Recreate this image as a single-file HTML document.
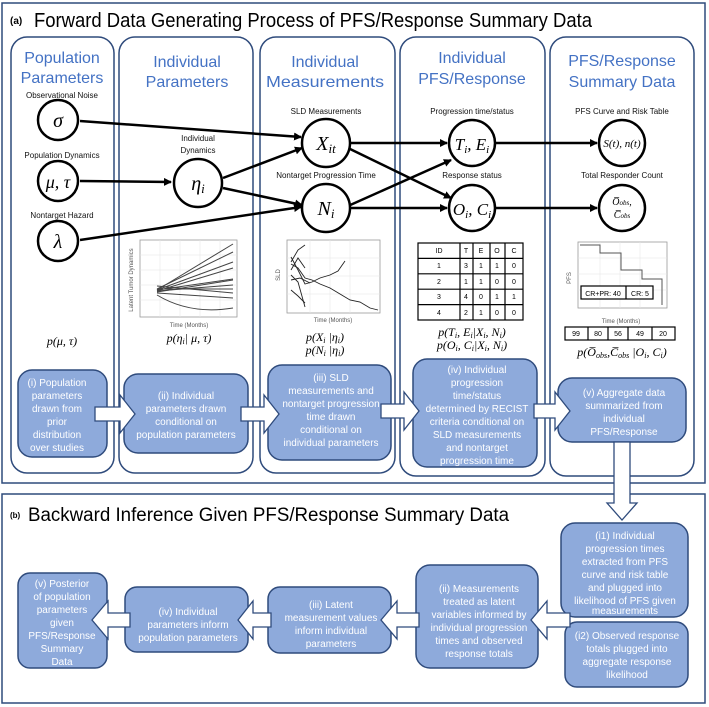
<!DOCTYPE html>
<html><head><meta charset="utf-8"><style>
html,body{margin:0;padding:0;background:#fff;}
svg{display:block;font-family:"Liberation Sans",sans-serif;}
.t{fill:#4472c4;font-size:16px;text-anchor:middle;}
.l{font-size:8px;text-anchor:middle;fill:#111;}
.m{font-family:"Liberation Serif",serif;font-style:italic;text-anchor:middle;fill:#000;}
.bx{fill:#8eaadb;stroke:#2f4b7c;stroke-width:1.5;}
.bt{fill:#fff;font-size:10px;text-anchor:middle;}
.ar{fill:#fff;stroke:#2f4b7c;stroke-width:1.3;}
.col{fill:none;stroke:#2f4b7c;stroke-width:1.5;}
.c{fill:#fff;stroke:#000;stroke-width:2.5;}
.e{stroke:#000;stroke-width:2.5;fill:none;marker-end:url(#h);}
.g{stroke:#e6e6e6;stroke-width:0.6;}
.pl{stroke:#444;stroke-width:1;fill:none;}
.tx{font-size:6px;fill:#555;text-anchor:middle;}
.tb{font-size:7px;text-anchor:middle;fill:#000;}
</style></head><body>
<svg width="709" height="707" viewBox="0 0 709 707">
<defs><marker id="h" markerWidth="8" markerHeight="8" refX="7" refY="4" orient="auto" markerUnits="userSpaceOnUse"><path d="M0,0 L8,4 L0,8 Z" fill="#000"/></marker></defs>
<rect x="2" y="3" width="703" height="480" fill="none" stroke="#2f4b7c" stroke-width="1.5"/>
<text x="10" y="24" font-size="10" font-weight="bold">(a)</text>
<text x="34" y="27" font-size="20" textLength="558" lengthAdjust="spacingAndGlyphs">Forward Data Generating Process of PFS/Response Summary Data</text>
<rect class="col" x="11" y="37" width="103" height="436" rx="16"/>
<rect class="col" x="119" y="37" width="134" height="436" rx="16"/>
<rect class="col" x="260" y="37" width="135" height="436" rx="16"/>
<rect class="col" x="400" y="37" width="145" height="439" rx="16"/>
<rect class="col" x="550" y="37" width="144" height="439" rx="16"/>
<text class="t" x="62" y="63">Population</text><text class="t" x="62" y="83">Parameters</text>
<text class="t" x="187" y="67">Individual</text><text class="t" x="187" y="87">Parameters</text>
<text class="t" x="325" y="67">Individual</text><text class="t" x="325" y="87" textLength="118" lengthAdjust="spacingAndGlyphs">Measurements</text>
<text class="t" x="472" y="63">Individual</text><text class="t" x="472" y="84">PFS/Response</text>
<text class="t" x="622" y="66">PFS/Response</text><text class="t" x="622" y="87">Summary Data</text>
<text class="l" x="62" y="98">Observational Noise</text>
<text class="l" x="62" y="158">Population Dynamics</text>
<text class="l" x="62" y="218">Nontarget Hazard</text>
<text class="l" x="198" y="141">Individual</text><text class="l" x="198" y="153">Dynamics</text>
<text class="l" x="326" y="114">SLD Measurements</text>
<text class="l" x="326" y="178">Nontarget Progression Time</text>
<text class="l" x="472" y="114">Progression time/status</text>
<text class="l" x="472" y="178">Response status</text>
<text class="l" x="622" y="114">PFS Curve and Risk Table</text>
<text class="l" x="622" y="178">Total Responder Count</text>
<line class="e" x1="80" y1="121" x2="301" y2="137"/>
<line class="e" x1="80" y1="181" x2="171" y2="182"/>
<line class="e" x1="80" y1="240" x2="301" y2="207"/>
<line class="e" x1="223" y1="178" x2="302" y2="148"/>
<line class="e" x1="223" y1="188" x2="302" y2="205"/>
<line class="e" x1="350" y1="143" x2="447" y2="143"/>
<line class="e" x1="348" y1="148" x2="451" y2="198"/>
<line class="e" x1="348" y1="206" x2="451" y2="160"/>
<line class="e" x1="350" y1="208" x2="447" y2="208"/>
<line class="e" x1="496" y1="143" x2="597" y2="143"/>
<line class="e" x1="496" y1="208" x2="597" y2="208"/>
<circle class="c" cx="58" cy="120" r="20"/><text class="m" x="58" y="127" font-size="20">σ</text>
<circle class="c" cx="58" cy="181" r="20"/><text class="m" x="58" y="188" font-size="18">μ, τ</text>
<circle class="c" cx="58" cy="241" r="20"/><text class="m" x="58" y="248" font-size="20">λ</text>
<circle class="c" cx="198" cy="183" r="24"/><text class="m" x="198" y="190" font-size="20">η<tspan font-size="13" dy="3">i</tspan></text>
<circle class="c" cx="326" cy="143" r="24"/><text class="m" x="326" y="150" font-size="20">X<tspan font-size="13" dy="3">it</tspan></text>
<circle class="c" cx="326" cy="208" r="24"/><text class="m" x="326" y="215" font-size="20">N<tspan font-size="13" dy="3">i</tspan></text>
<circle class="c" cx="472" cy="143" r="23"/><text class="m" x="472" y="150" font-size="17">T<tspan font-size="11" dy="3">i</tspan><tspan dy="-3">, E</tspan><tspan font-size="11" dy="3">i</tspan></text>
<circle class="c" cx="472" cy="208" r="23"/><text class="m" x="472" y="215" font-size="17">O<tspan font-size="11" dy="3">i</tspan><tspan dy="-3">, C</tspan><tspan font-size="11" dy="3">i</tspan></text>
<circle class="c" cx="622" cy="143" r="23"/><text class="m" x="622" y="147" font-size="11">S(t), n(t)</text>
<circle class="c" cx="622" cy="208" r="23"/><text class="m" x="622" y="205" font-size="10">O̅<tspan font-size="7">obs</tspan>,</text><text class="m" x="622" y="218" font-size="10">C̅<tspan font-size="7">obs</tspan></text>
<!-- plot 2 -->
<rect x="140" y="240" width="97" height="77" fill="#fff" stroke="#999" stroke-width="0.8"/>
<g class="g"><line x1="140" y1="255" x2="237" y2="255"/><line x1="140" y1="270" x2="237" y2="270"/><line x1="140" y1="285" x2="237" y2="285"/><line x1="140" y1="300" x2="237" y2="300"/><line x1="160" y1="240" x2="160" y2="317"/><line x1="180" y1="240" x2="180" y2="317"/><line x1="200" y1="240" x2="200" y2="317"/><line x1="220" y1="240" x2="220" y2="317"/></g>
<g class="pl"><path d="M157,290 L233,244"/><path d="M157,289 L233,252"/><path d="M157,290 L233,262"/><path d="M157,291 L233,268"/><path d="M157,290 L233,279"/><path d="M157,292 L233,280"/><path d="M157,291 L233,285"/><path d="M157,289 L233,289"/><path d="M157,293 L233,298"/><path d="M157,286 L233,293"/><path d="M157,295 Q190,315 233,308"/></g>
<text class="tx" x="189" y="327">Time (Months)</text>
<text class="tx" x="133" y="280" transform="rotate(-90 133 280)">Latent Tumor Dynamics</text>
<!-- plot 3 -->
<rect x="287" y="240" width="93" height="73" fill="#fff" stroke="#999" stroke-width="0.8"/>
<g class="g"><line x1="287" y1="258" x2="380" y2="258"/><line x1="287" y1="276" x2="380" y2="276"/><line x1="287" y1="294" x2="380" y2="294"/><line x1="310" y1="240" x2="310" y2="313"/><line x1="330" y1="240" x2="330" y2="313"/><line x1="350" y1="240" x2="350" y2="313"/></g>
<g stroke="#222" stroke-width="0.9" fill="none"><path d="M291,257 L298,270 L305,284 L312,282 L320,278 L330,275 L338,271 L345,261"/><path d="M291,264 L298,268 L305,278 L312,280 L320,284 L330,288 L340,294 L350,300 L360,302 L370,308 L378,310"/><path d="M291,290 L298,296 L305,303"/><path d="M291,275 L298,282 L305,307"/><path d="M291,262 L298,250 L305,245"/><path d="M291,270 L298,258 L305,268"/><path d="M291,280 L300,278 L310,283"/></g>
<text class="tx" x="333" y="322">Time (Months)</text>
<text class="tx" x="280" y="275" transform="rotate(-90 280 275)">SLD</text>
<!-- table -->
<g stroke="#000" stroke-width="1.2" fill="none"><rect x="418" y="243" width="105" height="77"/><line x1="418" y1="258.4" x2="523" y2="258.4"/><line x1="418" y1="273.8" x2="523" y2="273.8"/><line x1="418" y1="289.2" x2="523" y2="289.2"/><line x1="418" y1="304.6" x2="523" y2="304.6"/><line x1="460" y1="243" x2="460" y2="320"/><line x1="473" y1="243" x2="473" y2="320"/><line x1="490" y1="243" x2="490" y2="320"/><line x1="505" y1="243" x2="505" y2="320"/></g>
<g class="tb"><text x="439" y="253">ID</text><text x="466" y="253">T</text><text x="481" y="253">E</text><text x="497" y="253">O</text><text x="514" y="253">C</text>
<text x="439" y="268">1</text><text x="466" y="268">3</text><text x="481" y="268">1</text><text x="497" y="268">1</text><text x="514" y="268">0</text>
<text x="439" y="284">2</text><text x="466" y="284">1</text><text x="481" y="284">1</text><text x="497" y="284">0</text><text x="514" y="284">0</text>
<text x="439" y="299">3</text><text x="466" y="299">4</text><text x="481" y="299">0</text><text x="497" y="299">1</text><text x="514" y="299">1</text>
<text x="439" y="315">4</text><text x="466" y="315">2</text><text x="481" y="315">1</text><text x="497" y="315">0</text><text x="514" y="315">0</text></g>
<!-- pfs plot -->
<rect x="578" y="242" width="89" height="66" fill="#fff" stroke="#999" stroke-width="0.8"/>
<g class="g"><line x1="578" y1="258" x2="667" y2="258"/><line x1="578" y1="274" x2="667" y2="274"/><line x1="578" y1="290" x2="667" y2="290"/><line x1="600" y1="242" x2="600" y2="308"/><line x1="620" y1="242" x2="620" y2="308"/><line x1="640" y1="242" x2="640" y2="308"/></g>
<path d="M580,245 L600,245 L600,253 L621,253 L621,270 L642,270 L642,279 L662,279 L662,305" stroke="#555" stroke-width="1" fill="none"/>
<rect x="581" y="286" width="72" height="13" fill="#fff" stroke="#000" stroke-width="1.2"/><line x1="626" y1="286" x2="626" y2="299" stroke="#000" stroke-width="1.2"/>
<text class="tb" x="603" y="296">CR+PR: 40</text><text class="tb" x="640" y="296">CR: 5</text>
<text class="tx" x="571" y="278" transform="rotate(-90 571 278)">PFS</text>
<text class="tx" x="621" y="323" font-size="7">Time (Months)</text>
<g stroke="#000" stroke-width="1.2" fill="none"><rect x="565" y="327" width="110" height="13"/><line x1="588" y1="327" x2="588" y2="340"/><line x1="608" y1="327" x2="608" y2="340"/><line x1="628" y1="327" x2="628" y2="340"/><line x1="652" y1="327" x2="652" y2="340"/></g>
<g class="tb" font-size="6"><text x="576" y="336">99</text><text x="598" y="336">80</text><text x="618" y="336">56</text><text x="640" y="336">49</text><text x="663" y="336">20</text></g>
<!-- formulas -->
<text class="m" x="62" y="345" font-size="12">p(μ, τ)</text>
<text class="m" x="189" y="342" font-size="12">p(η<tspan font-size="8" dy="2">i</tspan><tspan dy="-2">| μ, τ)</tspan></text>
<text class="m" x="325" y="341" font-size="12">p(X<tspan font-size="8" dy="2">i</tspan><tspan dy="-2"> |η</tspan><tspan font-size="8" dy="2">i</tspan><tspan dy="-2">)</tspan></text>
<text class="m" x="325" y="354" font-size="12">p(N<tspan font-size="8" dy="2">i</tspan><tspan dy="-2"> |η</tspan><tspan font-size="8" dy="2">i</tspan><tspan dy="-2">)</tspan></text>
<text class="m" x="472" y="336" font-size="12">p(T<tspan font-size="8" dy="2">i</tspan><tspan dy="-2">, E</tspan><tspan font-size="8" dy="2">i</tspan><tspan dy="-2">|X</tspan><tspan font-size="8" dy="2">i</tspan><tspan dy="-2">, N</tspan><tspan font-size="8" dy="2">i</tspan><tspan dy="-2">)</tspan></text>
<text class="m" x="472" y="349" font-size="12">p(O<tspan font-size="8" dy="2">i</tspan><tspan dy="-2">, C</tspan><tspan font-size="8" dy="2">i</tspan><tspan dy="-2">|X</tspan><tspan font-size="8" dy="2">i</tspan><tspan dy="-2">, N</tspan><tspan font-size="8" dy="2">i</tspan><tspan dy="-2">)</tspan></text>
<text class="m" x="622" y="356" font-size="12">p(O̅<tspan font-size="8" dy="2">obs</tspan><tspan dy="-2">,C̅</tspan><tspan font-size="8" dy="2">obs</tspan><tspan dy="-2"> |O</tspan><tspan font-size="8" dy="2">i</tspan><tspan dy="-2">, C</tspan><tspan font-size="8" dy="2">i</tspan><tspan dy="-2">)</tspan></text>
<!-- forward boxes -->
<rect class="bx" x="18" y="370" width="89" height="87" rx="14"/>
<rect class="bx" x="124" y="374" width="124" height="79" rx="14"/>
<rect class="bx" x="268" y="365" width="123" height="95" rx="14"/>
<rect class="bx" x="413" y="359" width="124" height="108" rx="14"/>
<rect class="bx" x="558" y="378" width="128" height="64" rx="14"/>
<path class="ar" d="M95,407 L120,407 L120,395 L135,414 L120,433 L120,421 L95,421 Z"/>
<path class="ar" d="M241,407 L264,407 L264,395 L279,414 L264,433 L264,421 L241,421 Z"/>
<path class="ar" d="M381,404 L404,404 L404,392 L419,411 L404,430 L404,418 L381,418 Z"/>
<path class="ar" d="M534,404 L555,404 L555,392 L570,411 L555,430 L555,418 L534,418 Z"/>
<g class="bt">
<text x="57" y="386">(i) Population</text><text x="57" y="399">parameters</text><text x="57" y="412">drawn from</text><text x="57" y="425">prior</text><text x="57" y="438">distribution</text><text x="57" y="451">over studies</text>
<text x="186" y="399">(ii) Individual</text><text x="186" y="412">parameters drawn</text><text x="186" y="425">conditional on</text><text x="186" y="438">population parameters</text>
<text x="331" y="381">(iii) SLD</text><text x="331" y="394">measurements and</text><text x="331" y="407">nontarget progression</text><text x="331" y="420">time drawn</text><text x="331" y="433">conditional on</text><text x="331" y="446">individual parameters</text>
<text x="477" y="373">(iv) Individual</text><text x="477" y="386">progression</text><text x="477" y="399">time/status</text><text x="477" y="412">determined by RECIST</text><text x="477" y="425">criteria conditional on</text><text x="477" y="438">SLD measurements</text><text x="477" y="451">and nontarget</text><text x="477" y="464">progression time</text>
<text x="624" y="396">(v) Aggregate data</text><text x="624" y="409">summarized from</text><text x="624" y="422">individual</text><text x="624" y="435">PFS/Response</text>
</g>
<!-- part b -->
<rect x="2" y="494" width="703" height="209" fill="none" stroke="#2f4b7c" stroke-width="1.5"/>
<text x="10" y="518" font-size="8" font-weight="bold">(b)</text>
<text x="28" y="521" font-size="19" textLength="481" lengthAdjust="spacingAndGlyphs">Backward Inference Given PFS/Response Summary Data</text>
<path class="ar" d="M614,442 L630,442 L630,503 L637,503 L622,520 L607,503 L614,503 Z"/>
<rect class="bx" x="561" y="523" width="127" height="94" rx="14"/>
<rect class="bx" x="565" y="622" width="123" height="65" rx="12"/>
<rect class="bx" x="416" y="565" width="122" height="103" rx="14"/>
<rect class="bx" x="268" y="587" width="123" height="66" rx="12"/>
<rect class="bx" x="125" y="587" width="123" height="65" rx="12"/>
<rect class="bx" x="18" y="573" width="89" height="95" rx="12"/>
<path class="ar" d="M570,613 L547,613 L547,601 L531,620 L547,639 L547,627 L570,627 Z"/>
<path class="ar" d="M419,613 L397,613 L397,601 L381,620 L397,639 L397,627 L419,627 Z"/>
<path class="ar" d="M271,613 L253,613 L253,601 L238,620 L253,639 L253,627 L271,627 Z"/>
<path class="ar" d="M130,613 L108,613 L108,601 L92,620 L108,639 L108,627 L130,627 Z"/>
<g class="bt" font-size="9.5">
<text x="625" y="539">(i1) Individual</text><text x="625" y="552">progression times</text><text x="625" y="565">extracted from PFS</text><text x="625" y="578">curve and risk table</text><text x="625" y="591">and plugged into</text><text x="625" y="604">likelihood of PFS given</text><text x="625" y="614">measurements</text>
<text x="627" y="639">(i2) Observed response</text><text x="627" y="652">totals plugged into</text><text x="627" y="665">aggregate response</text><text x="627" y="678">likelihood</text>
<text x="479" y="592">(ii) Measurements</text><text x="479" y="605">treated as latent</text><text x="479" y="618">variables  informed by</text><text x="479" y="631">individual progression</text><text x="479" y="644">times and observed</text><text x="479" y="657">response totals</text>
<text x="331" y="608">(iii) Latent</text><text x="331" y="621">measurement values</text><text x="331" y="634">inform individual</text><text x="331" y="647">parameters</text>
<text x="188" y="615">(iv) Individual</text><text x="188" y="628">parameters inform</text><text x="188" y="641">population parameters</text>
<text x="62" y="587">(v) Posterior</text><text x="62" y="600">of population</text><text x="62" y="613">parameters</text><text x="62" y="626">given</text><text x="62" y="639">PFS/Response</text><text x="62" y="652">Summary</text><text x="62" y="665">Data</text>
</g>
</svg>
</body></html>
